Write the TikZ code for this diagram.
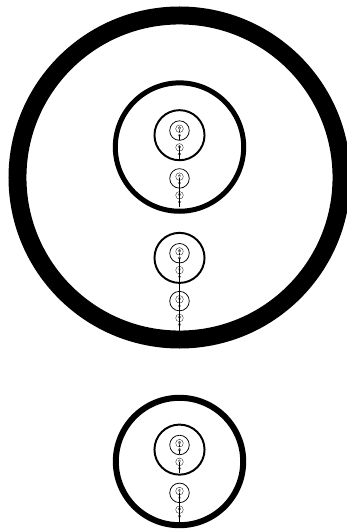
\documentclass[tikz,border=0pt]{standalone}
\newcommand\fracS[3]{% #1 = centre y (image px, downward), #2 = outer radius, #3 = ring width factor
  \begingroup
  \pgfmathsetmacro\fsLw{#3*#2}%
  \pgfmathsetmacro\fsRad{#2-0.5*\fsLw}%
  \pgfmathsetmacro\fsYt{-#1}%
  \draw[ring, line width=\fsLw pt] (179.5pt,\fsYt pt) circle[radius=\fsRad pt];
  \pgfmathsetmacro\fsCR{0.39*#2}%
  \ifdim\fsCR pt>0.4pt
    \pgfmathsetmacro\fsLa{-(#1-0.178*#2+0.648*#2)}%
    \pgfmathsetmacro\fsLb{-(#1+0.9*#2)}%
    \pgfmathsetmacro\fsLlw{0.009*#2}%
    \draw[stem, line width=\fsLlw pt] (179.5pt,\fsLa pt) -- (179.5pt,\fsLb pt);
    \foreach \k in {0,...,10}{%
      \pgfmathsetmacro\cR{#2*0.39^(\k+1)}%
      \pgfmathsetmacro\cY{#1-0.178*#2+0.648*#2*(1-0.39^\k)/0.61}%
      \ifdim\cR pt>0.4pt
        \edef\fsNext{\noexpand\fracS{\cY}{\cR}{0.075}}\fsNext
      \fi
    }%
  \fi
  \endgroup}
\begin{document}
\begin{tikzpicture}[ring/.style={draw=black}, stem/.style={draw=black}]
  \useasboundingbox (0pt,0pt) rectangle (347pt,-529pt);
  \clip (0pt,0pt) rectangle (347pt,-529pt);
  \fill[white] (0pt,0pt) rectangle (347pt,-529pt);
  \fracS{177.5}{171}{0.105}
  \fracS{461.5}{66.7}{0.09}
\end{tikzpicture}
\end{document}
